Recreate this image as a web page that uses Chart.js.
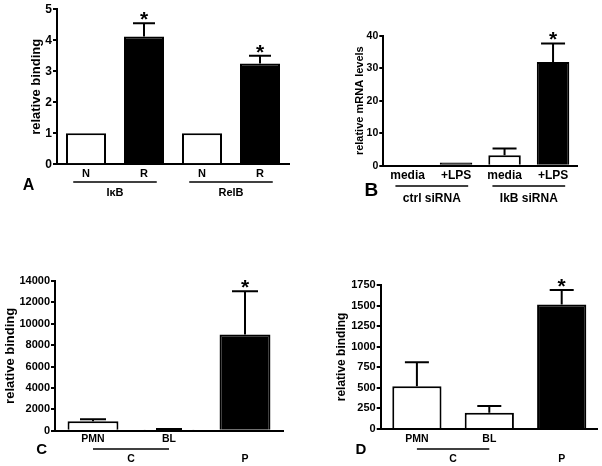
<!DOCTYPE html>
<html><head><meta charset="utf-8">
<script src="https://cdn.jsdelivr.net/npm/chart.js@4.4.0/dist/chart.umd.min.js"></script>
<style>
html,body{margin:0;padding:0;background:#fff;}
#wrap{position:relative;width:602px;height:466px;overflow:hidden;background:#fff;}
canvas{position:absolute;}
</style></head><body>
<div id="wrap">
<canvas id="cA" width="301" height="233" style="left:0;top:0"></canvas>
<canvas id="cB" width="301" height="233" style="left:301px;top:0"></canvas>
<canvas id="cC" width="301" height="233" style="left:0;top:233px"></canvas>
<canvas id="cD" width="301" height="233" style="left:301px;top:233px"></canvas>
</div>
<script>
// ---------- Data ----------
// Panel A
const categoriesA = ['N', 'R', 'N', 'R'];
const valuesA = [1, 4.12, 1, 3.25];
const errorsA = [0, 0.43, 0, 0.25];
const starsA = [false, true, false, true];
const treatedA = [false, true, false, true];
const groupsA = [{label: 'IκB', from: 0, to: 1, line: true}, {label: 'RelB', from: 2, to: 3, line: true}];
const yTicksA = [0, 1, 2, 3, 4, 5];

// Panel B
const categoriesB = ['media', '+LPS', 'media', '+LPS'];
const valuesB = [0, 1.0, 3.2, 31.9];
const errorsB = [0, 0, 2.1, 5.7];
const starsB = [false, false, false, true];
const treatedB = [false, true, false, true];
const groupsB = [{label: 'ctrl siRNA', from: 0, to: 1, line: true}, {label: 'IkB siRNA', from: 2, to: 3, line: true}];
const yTicksB = [0, 10, 20, 30, 40];

// Panel C
const categoriesC = ['PMN', 'BL', ''];
const valuesC = [880, 120, 9000];
const errorsC = [190, 50, 4050];
const starsC = [false, false, true];
const treatedC = [false, false, true];
const groupsC = [{label: 'C', from: 0, to: 1, line: true}, {label: 'P', from: 2, to: 2, line: false}];
const yTicksC = [0, 2000, 4000, 6000, 8000, 10000, 12000, 14000];

// Panel D
const categoriesD = ['PMN', 'BL', ''];
const valuesD = [520, 195, 1512];
const errorsD = [290, 85, 178];
const starsD = [false, false, true];
const treatedD = [false, false, true];
const groupsD = [{label: 'C', from: 0, to: 1, line: true}, {label: 'P', from: 2, to: 2, line: false}];
const yTicksD = [0, 250, 500, 750, 1000, 1250, 1500, 1750];

// ---------- Rendering ----------
const FONT = '"Liberation Sans", Arial, Helvetica, sans-serif';
Chart.defaults.font.family = FONT;
Chart.defaults.color = '#000';

const decorPlugin = {
  id: 'decor',
  afterDatasetsDraw(chart, args, o) {
    const ctx = chart.ctx;
    const xs = chart.scales.x, ys = chart.scales.y;
    const meta = chart.getDatasetMeta(0);
    ctx.save();
    ctx.strokeStyle = '#000';
    ctx.fillStyle = '#000';
    ctx.lineWidth = 2;
    o.values.forEach((v, i) => {
      const bar = meta.data[i];
      const e = o.errors[i];
      let topPx = ys.getPixelForValue(v);
      if (e) {
        topPx = ys.getPixelForValue(v + e);
        ctx.beginPath();
        ctx.moveTo(bar.x, bar.y);
        ctx.lineTo(bar.x, topPx);
        ctx.moveTo(bar.x - o.cap / 2, topPx);
        ctx.lineTo(bar.x + o.cap / 2, topPx);
        ctx.stroke();
      }
      if (o.stars[i]) {
        ctx.font = 'bold ' + o.starSize + 'px ' + FONT;
        ctx.textAlign = 'center';
        ctx.textBaseline = 'alphabetic';
        const cy = topPx - 9;
        ctx.fillText('*', bar.x, cy + 0.56 * o.starSize);
      }
    });
    // group lines and labels
    const cw = xs.getPixelForValue(1) - xs.getPixelForValue(0);
    ctx.lineWidth = 1.3;
    o.groups.forEach(g => {
      const x0 = xs.getPixelForValue(g.from) - o.extend * cw;
      const x1 = xs.getPixelForValue(g.to) + o.extend * cw;
      if (g.line) {
        ctx.beginPath();
        ctx.moveTo(x0, o.lineY);
        ctx.lineTo(x1, o.lineY);
        ctx.stroke();
      }
      ctx.font = 'bold ' + o.groupSize + 'px ' + FONT;
      ctx.textAlign = 'center';
      ctx.textBaseline = 'middle';
      ctx.fillText(g.label, (xs.getPixelForValue(g.from) + xs.getPixelForValue(g.to)) / 2, o.labelY);
    });
    // panel letter
    ctx.font = 'bold ' + o.letterSize + 'px ' + FONT;
    ctx.textAlign = 'center';
    ctx.textBaseline = 'middle';
    ctx.fillText(o.letter, o.letterX, o.letterY);
    ctx.restore();
  }
};

function makePanel(id, d, s) {
  const step = d.yTicks[1] - d.yTicks[0];
  new Chart(document.getElementById(id), {
    type: 'bar',
    data: {
      labels: d.cats,
      datasets: [{
        data: d.vals,
        backgroundColor: d.treated.map(t => t ? '#000' : '#fff'),
        borderColor: '#000',
        borderWidth: 2,
        borderSkipped: 'start',
        categoryPercentage: 1,
        barPercentage: s.barPct
      }]
    },
    options: {
      responsive: false,
      animation: false,
      events: [],
      layout: {padding: s.padding},
      plugins: {
        legend: {display: false},
        tooltip: {enabled: false},
        decor: {
          values: d.vals, errors: d.errors, stars: d.stars, groups: d.groups,
          cap: s.cap, starSize: s.starSize, extend: s.extend,
          lineY: s.lineY, labelY: s.labelY, groupSize: s.groupSize,
          letter: s.letter, letterX: s.letterX, letterY: s.letterY, letterSize: s.letterSize
        }
      },
      scales: {
        x: {
          grid: {display: false, drawTicks: false},
          border: {display: true, color: '#000', width: 2},
          ticks: {color: '#000', font: {weight: 'bold', size: s.catSize}, padding: s.catPad, maxRotation: 0, autoSkip: false},
          afterFit: sc => { sc.height = s.xHeight; }
        },
        y: {
          min: d.yTicks[0],
          max: d.yTicks[d.yTicks.length - 1],
          ticks: {
            stepSize: step, color: '#000', padding: 1,
            font: {weight: 'bold', size: s.tickSize},
            callback: v => String(v)
          },
          grid: {display: true, drawOnChartArea: false, drawTicks: true, tickLength: 4, color: '#000', lineWidth: 2},
          border: {display: true, color: '#000', width: 2},
          title: {display: true, text: d.title, color: '#000', font: {weight: 'bold', size: s.titleSize}, padding: {top: s.titlePad, bottom: 0}},
          afterFit: sc => { sc.width = s.yWidth; }
        }
      }
    },
    plugins: [decorPlugin]
  });
}

makePanel('cA',
  {cats: categoriesA, vals: valuesA, errors: errorsA, stars: starsA, treated: treatedA, groups: groupsA, yTicks: yTicksA, title: 'relative binding'},
  {padding: {left: 0, top: 9.3, right: 12, bottom: 0}, yWidth: 57, xHeight: 68.7, titlePad: 28.2, titleSize: 13, tickSize: 12,
   catSize: 11, catPad: 2.8, groupSize: 11, barPct: 0.69, cap: 22, starSize: 21, extend: 0.22, lineY: 182, labelY: 193.3,
   letter: 'A', letterX: 28.5, letterY: 186, letterSize: 16});

makePanel('cB',
  {cats: categoriesB, vals: valuesB, errors: errorsB, stars: starsB, treated: treatedB, groups: groupsB, yTicks: yTicksB, title: 'relative mRNA levels'},
  {padding: {left: 0, top: 35.7, right: 24.7, bottom: 0}, yWidth: 82.3, xHeight: 67.3, titlePad: 51.9, titleSize: 11, tickSize: 10.5,
   catSize: 12, catPad: 3.1, groupSize: 12, barPct: 0.67, cap: 24, starSize: 21, extend: 0.25, lineY: 186, labelY: 199,
   letter: 'B', letterX: 70.3, letterY: 190.5, letterSize: 19});

makePanel('cC',
  {cats: categoriesC, vals: valuesC, errors: errorsC, stars: starsC, treated: treatedC, groups: groupsC, yTicks: yTicksC, title: 'relative binding'},
  {padding: {left: 0, top: 48, right: 18, bottom: 0}, yWidth: 55, xHeight: 35.3, titlePad: 2.2, titleSize: 13, tickSize: 11,
   catSize: 10.5, catPad: 2.4, groupSize: 10.5, barPct: 0.67, cap: 26, starSize: 21, extend: 0.0, lineY: 216, labelY: 226,
   letter: 'C', letterX: 41.7, letterY: 216.5, letterSize: 15});

makePanel('cD',
  {cats: categoriesD, vals: valuesD, errors: errorsD, stars: starsD, treated: treatedD, groups: groupsD, yTicks: yTicksD, title: 'relative binding'},
  {padding: {left: 0, top: 52, right: 4.1, bottom: 0}, yWidth: 79.7, xHeight: 37.1, titlePad: 33.5, titleSize: 12, tickSize: 11,
   catSize: 10.5, catPad: 4.2, groupSize: 10.5, barPct: 0.68, cap: 24, starSize: 21, extend: 0.0, lineY: 216, labelY: 226,
   letter: 'D', letterX: 60, letterY: 217, letterSize: 15});
</script>
</body></html>
